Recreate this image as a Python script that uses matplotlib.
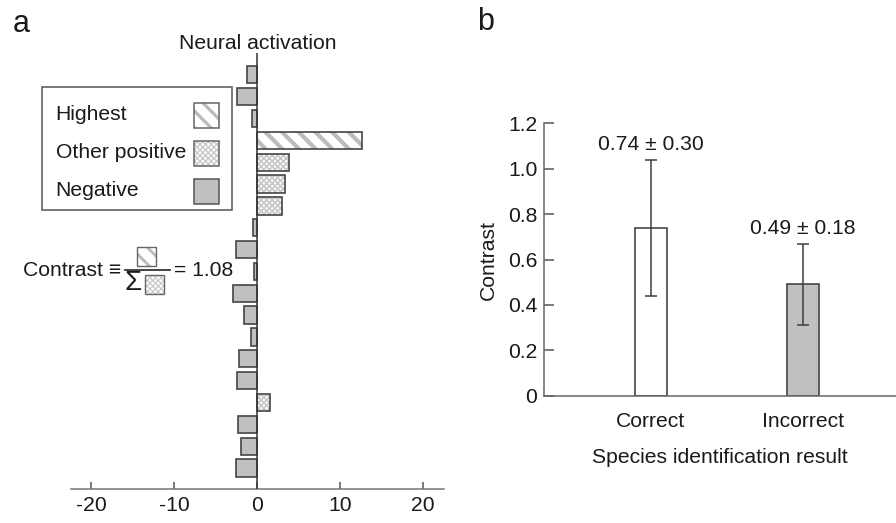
import matplotlib
matplotlib.use("Agg")
import matplotlib.pyplot as plt
from matplotlib.patches import Rectangle
import numpy as np

FS = 15.2
plt.rcParams['font.family'] = ['Liberation Sans', 'DejaVu Sans']
plt.rcParams['font.size'] = FS
plt.rcParams['text.color'] = '#1a1a1a'
plt.rcParams['axes.labelcolor'] = '#1a1a1a'
plt.rcParams['xtick.color'] = '#555555'
plt.rcParams['ytick.color'] = '#555555'
plt.rcParams['xtick.labelcolor'] = '#1a1a1a'
plt.rcParams['ytick.labelcolor'] = '#1a1a1a'

# ---------------- data ----------------
# panel a: neural activation of each output unit (top to bottom)
activation = [-1.28, -2.48, -0.60, 12.67, 3.86, 3.38, 2.98, -0.48, -2.57, -0.36,
              -2.90, -1.60, -0.80, -2.25, -2.45, 1.57, -2.37, -1.97, -2.53]
act_xticks = [-20, -10, 0, 10, 20]
legend_labels = ['Highest', 'Other positive', 'Negative']
contrast_text = '1.08'

# panel b: contrast by identification result
results = ['Correct', 'Incorrect']
contrast_mean = [0.74, 0.49]
contrast_err = [0.30, 0.18]
contrast_yticks = [0, 0.2, 0.4, 0.6, 0.8, 1.0, 1.2]
contrast_yticklabels = ['0', '0.2', '0.4', '0.6', '0.8', '1.0', '1.2']

# ---------------- styles ----------------
EDGE = '#454545'
GRAY = '#c0c0c0'
HATCH_COL = '#bcbcbc'
CHECK_COL = '#c8c8c8'

W, H = 896, 523
fig = plt.figure(figsize=(W / 100, H / 100), dpi=100)


def set_hlw(p, lw):
    if hasattr(p, 'set_hatch_linewidth'):
        p.set_hatch_linewidth(lw)


def styled_bar_layers(kind):
    if kind == 'highest':
        return 'white', '\\\\', HATCH_COL, 3.0
    if kind == 'positive':
        return 'white', 'xxxxxx', CHECK_COL, 1.2
    return GRAY, None, None, None


# ---------------- panel a ----------------
axa = fig.add_axes([70.7 / W, 1 - 489 / H, 373.3 / W, 436 / H])
vals = np.array(activation)
ypos = np.arange(1, len(vals) + 1)
imax = int(np.argmax(vals))
kinds = []
for i, v in enumerate(vals):
    if i == imax:
        kinds.append('highest')
    elif v > 0:
        kinds.append('positive')
    else:
        kinds.append('negative')

for y, v, k in zip(ypos, vals, kinds):
    fc, hatch, hc, hlw = styled_bar_layers(k)
    if hatch:
        plt.rcParams['hatch.linewidth'] = hlw
        b = axa.barh(y, v, height=0.79, color=fc, edgecolor=hc, linewidth=0,
                     hatch=hatch, zorder=2)
        for p in b:
            set_hlw(p, hlw)
        axa.barh(y, v, height=0.79, fill=False, edgecolor=EDGE, linewidth=1.2, zorder=3)
    else:
        axa.barh(y, v, height=0.79, color=fc, edgecolor=EDGE, linewidth=1.2, zorder=3)

axa.set_ylim(19.96, 0)
axa.set_xlim(-22.5, 22.5)
axa.axvline(0, color='#333333', lw=1.1, zorder=4)
for s in ['top', 'right', 'left']:
    axa.spines[s].set_visible(False)
axa.spines['bottom'].set_color('#777777')
axa.spines['bottom'].set_linewidth(1.1)
axa.set_yticks([])
axa.set_xticks(act_xticks)
axa.set_xticklabels([str(t) for t in act_xticks])
axa.tick_params(axis='x', direction='in', length=5, width=1.1, pad=5)
axa.set_title('Neural activation', fontsize=FS, pad=3)

# ---------------- panel b ----------------
axb = fig.add_axes([544.3 / W, 1 - 395.7 / H, (W - 544.3) / W, 272.4 / H])
xb = np.arange(1, len(results) + 1)
bar_colors = ['white', GRAY]
axb.bar(xb, contrast_mean, width=0.21, color=bar_colors, edgecolor=EDGE,
        linewidth=1.2, zorder=2)
axb.errorbar(xb, contrast_mean, yerr=contrast_err, fmt='none', ecolor='#404040',
             elinewidth=1.1, capsize=4, capthick=1.1, zorder=3)
for x, m, e in zip(xb, contrast_mean, contrast_err):
    axb.annotate(f'{m:.2f} \u00b1 {e:.2f}', (x, m + e), xytext=(0, 4),
                 textcoords='offset points', ha='center', va='bottom', fontsize=FS)
axb.set_xlim(0.3, 2.615)
axb.set_ylim(0, 1.2)
axb.set_yticks(contrast_yticks)
axb.set_yticklabels(contrast_yticklabels)
axb.set_xticks(xb)
axb.set_xticklabels(results)
axb.tick_params(axis='y', direction='in', length=7.5, width=1.1, pad=5)
axb.tick_params(axis='x', length=0, pad=12)
for s in ['top', 'right']:
    axb.spines[s].set_visible(False)
for s in ['left', 'bottom']:
    axb.spines[s].set_color('#666666')
    axb.spines[s].set_linewidth(1.1)
axb.set_ylabel('Contrast', labelpad=7)
axb.set_xlabel('Species identification result', labelpad=12)

# ---------------- overlay (legend, formula, panel letters) ----------------
ov = fig.add_axes([0, 0, 1, 1], zorder=10)
ov.set_xlim(0, W)
ov.set_ylim(H, 0)
ov.axis('off')
ov.patch.set_visible(False)

ov.add_patch(Rectangle((42, 87), 190, 123, fill=False, ec='#555555', lw=1.1))
leg_kinds = ['highest', 'positive', 'negative']
leg_y = [115, 153, 191]
for lab, k, yy in zip(legend_labels, leg_kinds, leg_y):
    ov.text(55.5, yy, lab, ha='left', va='center', fontsize=FS)
    fc, hatch, hc, hlw = styled_bar_layers(k)
    if hatch:
        plt.rcParams['hatch.linewidth'] = hlw * 0.8
        p = Rectangle((193.5, yy - 12.5), 25.5, 25, fc=fc, ec=hc, lw=0, hatch=hatch)
        set_hlw(p, hlw * 0.8)
        ov.add_patch(p)
        ov.add_patch(Rectangle((193.5, yy - 12.5), 25.5, 25, fill=False, ec='#666666', lw=1.1))
    else:
        ov.add_patch(Rectangle((193.5, yy - 12.5), 25.5, 25, fc=fc, ec='#555555', lw=1.1))

# formula
ov.text(121, 271, 'Contrast \u2261', ha='right', va='center', fontsize=FS)
ov.plot([125, 170], [269.5, 269.5], color='#222222', lw=1.2)
for (x0, y0, k) in [(137, 247, 'highest'), (144.5, 275, 'positive')]:
    fc, hatch, hc, hlw = styled_bar_layers(k)
    plt.rcParams['hatch.linewidth'] = hlw * 0.7
    p = Rectangle((x0, y0), 19, 19, fc=fc, ec=hc, lw=0, hatch=hatch)
    set_hlw(p, hlw * 0.7)
    ov.add_patch(p)
    ov.add_patch(Rectangle((x0, y0), 19, 19, fill=False, ec='#666666', lw=1.0))
ov.text(133, 283.5, '\u03a3', ha='center', va='center', fontsize=20)
ov.text(174, 271, '= ' + contrast_text, ha='left', va='center', fontsize=FS)

ov.text(21, 24, 'a', ha='center', va='center', fontsize=22)
ov.text(486, 22, 'b', ha='center', va='center', fontsize=22)

fig.savefig('out.png', dpi=100)
